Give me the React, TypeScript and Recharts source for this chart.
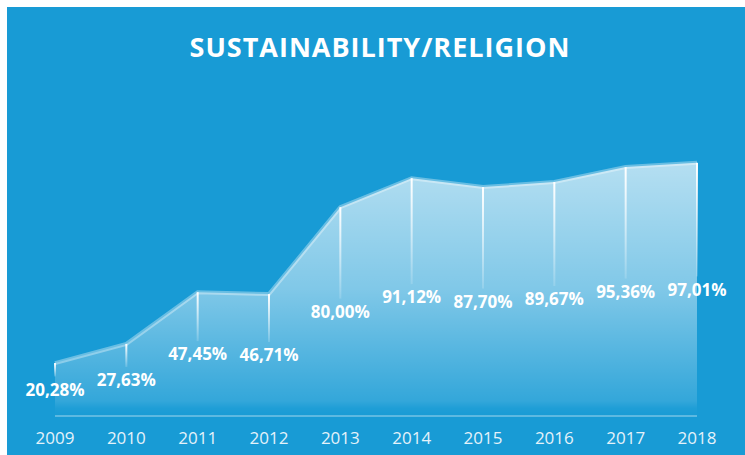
import { AreaChart, Area, XAxis, YAxis } from 'recharts'

const years = ['2009', '2010', '2011', '2012', '2013', '2014', '2015', '2016', '2017', '2018']
const shares = [20.28, 27.63, 47.45, 46.71, 80.0, 91.12, 87.7, 89.67, 95.36, 97.01]

const data = years.map((year, i) => ({ year, value: shares[i] }))

const W = 745
const H = 455
const MARGIN = { top: 155, right: 48, bottom: 0, left: 55 }
const AXIS_H = 39
const BASELINE = H - MARGIN.bottom - AXIS_H

const fmt = (v: number) => v.toFixed(2).replace('.', ',') + '%'

function PointMarker(props: any) {
  const { cx, cy, payload } = props
  if (cx == null || cy == null) return null
  const labelY = (cy + BASELINE) / 2
  const lineEnd = labelY - 13
  return (
    <g>
      {lineEnd > cy && (
        <rect x={cx - 1} y={cy} width={2} height={lineEnd - cy} fill="url(#vline)" />
      )}
      <text
        x={cx}
        y={labelY}
        dy="0.36em"
        textAnchor="middle"
        fill="#ffffff"
        fontFamily="'Open Sans', sans-serif"
        fontWeight={700}
        fontSize={17}
      >
        {fmt(payload.value)}
      </text>
    </g>
  )
}

export default function App() {
  return (
    <div style={{ position: 'absolute', left: 0, top: 0, width: W, height: H, background: '#fff' }}>
      <div style={{ position: 'absolute', left: 7, top: 7, right: 0, bottom: 0, background: '#189bd5' }} />
      <div
        style={{
          position: 'absolute',
          left: 0,
          top: 28,
          width: 760,
          textAlign: 'center',
          color: '#fff',
          fontFamily: "'Open Sans', sans-serif",
          fontWeight: 700,
          fontSize: 27,
          letterSpacing: 1,
          lineHeight: '38px',
        }}
      >
        SUSTAINABILITY/RELIGION
      </div>
      <div style={{ position: 'absolute', left: 0, top: 0 }}>
        <AreaChart width={W} height={H} data={data} margin={MARGIN}>
          <defs>
            <linearGradient id="areaFill" x1="0" y1="0" x2="0" y2="1">
              <stop offset="0%" stopColor="#ffffff" stopOpacity={0.68} />
              <stop offset="50%" stopColor="#ffffff" stopOpacity={0.45} />
              <stop offset="94%" stopColor="#ffffff" stopOpacity={0.12} />
              <stop offset="97%" stopColor="#ffffff" stopOpacity={0.03} />
              <stop offset="100%" stopColor="#ffffff" stopOpacity={0} />
            </linearGradient>
            <linearGradient id="vline" x1="0" y1="0" x2="0" y2="1">
              <stop offset="0%" stopColor="#ffffff" stopOpacity={1} />
              <stop offset="100%" stopColor="#ffffff" stopOpacity={0.15} />
            </linearGradient>
          </defs>
          <XAxis
            dataKey="year"
            height={AXIS_H}
            axisLine={{ stroke: '#ffffff', strokeOpacity: 0.3, strokeWidth: 2 }}
            tickLine={false}
            tickMargin={10}
            interval={0}
            tick={{ fill: '#e4f2fa', fontSize: 17, fontFamily: "'Open Sans', sans-serif" }}
          />
          <YAxis hide domain={[0, 100]} />
          <Area
            type="linear"
            dataKey="value"
            stroke="#ffffff"
            strokeOpacity={0.35}
            strokeWidth={4}
            fill="url(#areaFill)"
            fillOpacity={1}
            dot={<PointMarker />}
            activeDot={false}
            isAnimationActive={false}
          />
        </AreaChart>
      </div>
    </div>
  )
}
